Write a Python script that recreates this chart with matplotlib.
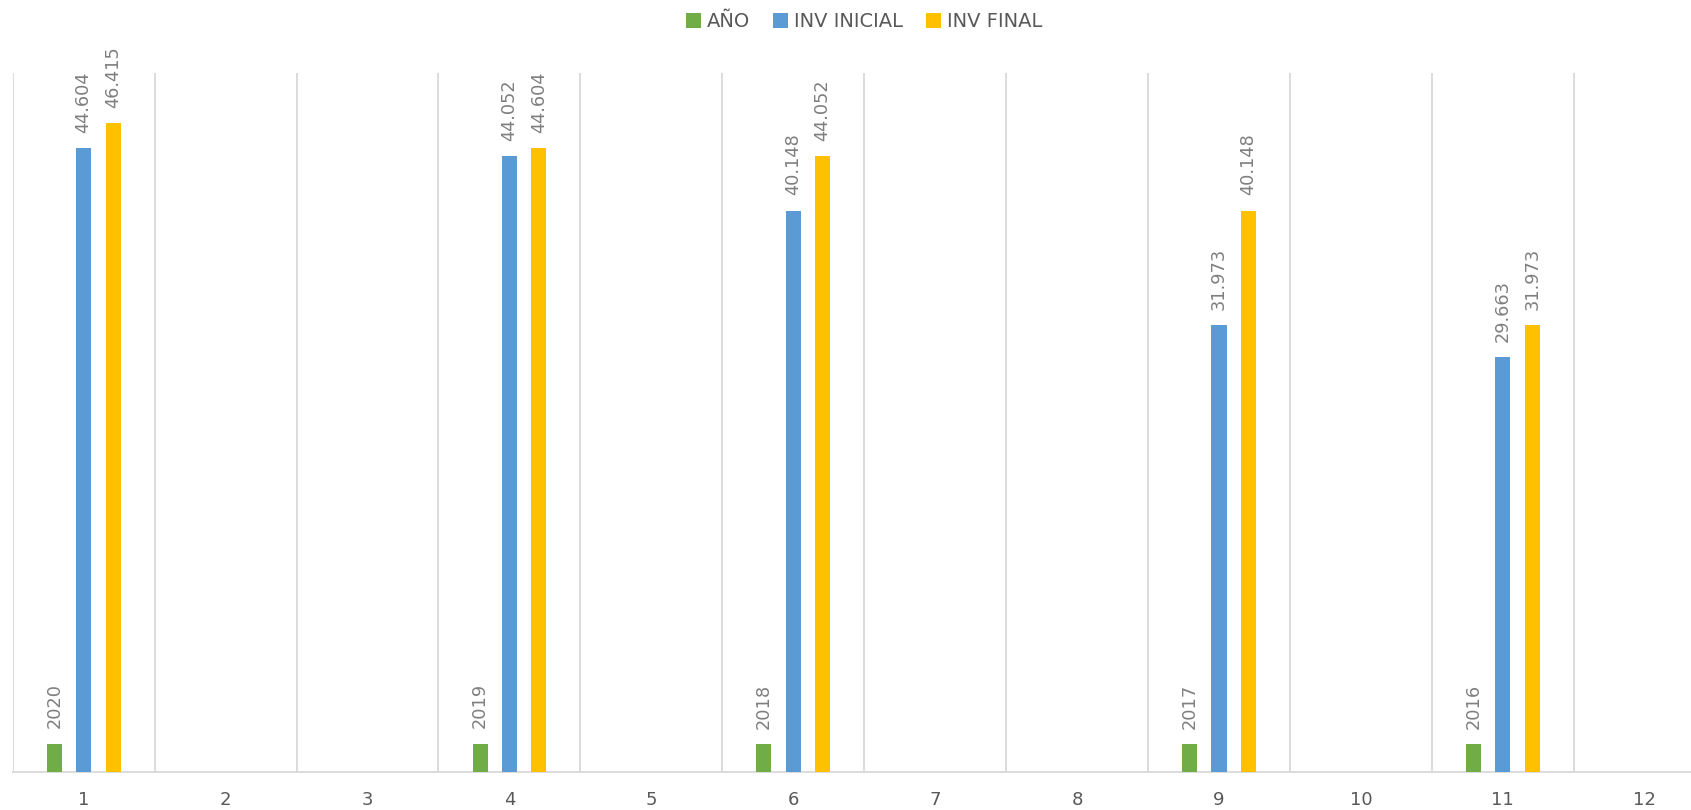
import numpy as np
import matplotlib
matplotlib.use("Agg")
import matplotlib.pyplot as plt
from matplotlib.ticker import FixedLocator

categories = [1, 2, 3, 4, 5, 6, 7, 8, 9, 10, 11, 12]
anio = [2020, None, None, 2019, None, 2018, None, None, 2017, None, 2016, None]
inv_inicial = [44604, None, None, 44052, None, 40148, None, None, 31973, None, 29663, None]
inv_final = [46415, None, None, 44604, None, 44052, None, None, 40148, None, 31973, None]

series = [("AÑO", anio, "#70ad47"),
          ("INV INICIAL", inv_inicial, "#5b9bd5"),
          ("INV FINAL", inv_final, "#ffc000")]

plt.rcParams['font.family'] = ['DejaVu Sans']

fig = plt.figure(figsize=(16.91, 8.10), dpi=100)
ax = fig.add_axes([12.7 / 1691, 38 / 810, 1703 / 1691, 699 / 810])

x = np.array(categories, dtype=float)
offsets = [-0.207, 0.0, 0.207]
width = 0.106

def fmt(v, thousands):
    if thousands:
        return f"{int(v):,}".replace(",", ".")
    return str(int(v))

for (name, vals, color), off in zip(series, offsets):
    xs = [xi + off for xi, v in zip(x, vals) if v is not None]
    ys = [v for v in vals if v is not None]
    bars = ax.bar(xs, ys, width=width, color=color, label=name, zorder=3)
    labels = [fmt(v, name != "AÑO") for v in ys]
    ax.bar_label(bars, labels=labels, rotation=90, padding=11,
                 fontsize=12.8, color="#7f7f7f")

ax.set_xlim(0.5, 12.5)
ax.set_ylim(0, 50000)
ax.set_xticks(categories)
ax.set_xticklabels([str(c) for c in categories])
ax.xaxis.set_minor_locator(FixedLocator(np.arange(0.5, 13.0, 1.0)))
ax.grid(True, which="minor", axis="x", color="#d9d9d9", linewidth=1.3, zorder=0)
ax.tick_params(axis="x", which="both", length=0, labelsize=13,
               labelcolor="#595959", pad=14)
ax.set_yticks([])
for s in ["top", "right", "left"]:
    ax.spines[s].set_visible(False)
ax.spines["bottom"].set_color("#d9d9d9")
ax.spines["bottom"].set_linewidth(1.3)

leg = ax.legend(loc="center", bbox_to_anchor=(0.5, (810 - 21.7 - 38) / 699),
                ncol=3, frameon=False, fontsize=14,
                handlelength=0.75, handleheight=0.75, handletextpad=0.3,
                columnspacing=1.2, borderpad=0)
for t in leg.get_texts():
    t.set_color("#595959")

fig.savefig("out.png", dpi=100)
